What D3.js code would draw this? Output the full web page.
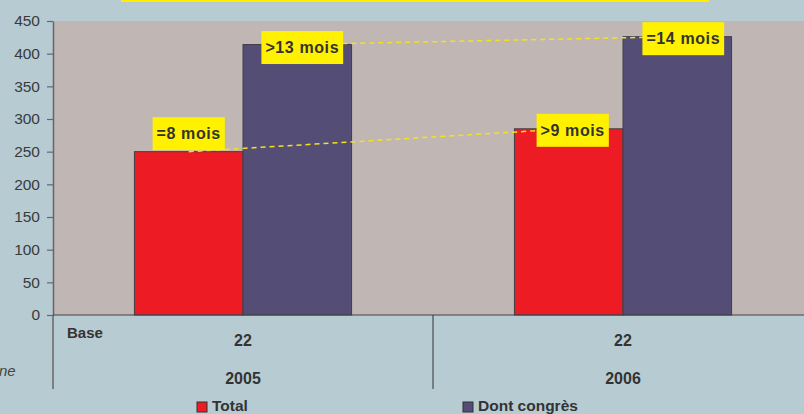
<!DOCTYPE html>
<html><head><meta charset="utf-8">
<script src="https://cdn.jsdelivr.net/npm/d3@7"></script>
<style>
html,body{margin:0;padding:0;background:#B7CBD3;}
svg{display:block;}
text{font-family:"Liberation Sans",Arial,sans-serif;}
</style></head>
<body>
<svg id="chart" width="804" height="414"></svg>
<script>
const categories = ["2005", "2006"];
const series = ["Total", "Dont congrès"];
const totalValues = [250, 285];
const congresValues = [414, 426];
const baseValues = ["22", "22"];
const yTicks = [0, 50, 100, 150, 200, 250, 300, 350, 400, 450];
const totalLabels = ["=8 mois", ">9 mois"];
const congresLabels = [">13 mois", "=14 mois"];
const colors = ["#ED1C24", "#544E76"];

(function () {
const svg = d3.select("#chart");
const W = 804, H = 414;
const mLeft = 53, mTop = 21, mBottom = 315, bandEnd = 813;

svg.append("rect").attr("width", W).attr("height", H).attr("fill", "#B7CBD3");
// title banner (cut at top)
svg.append("rect").attr("x", 121).attr("y", -30).attr("width", 588).attr("height", 32).attr("fill", "#FFEE00");

const y = d3.scaleLinear().domain([0, 450]).range([mBottom, mTop]);
const x0 = d3.scaleBand().domain(categories).range([mLeft, bandEnd]).paddingInner(0).paddingOuter(0);
const x1 = d3.scaleBand().domain(series).range([0, x0.bandwidth()]).paddingInner(0).paddingOuter(0.75);

// plot background
svg.append("rect").attr("x", mLeft + 1).attr("y", mTop).attr("width", W - mLeft).attr("height", mBottom - mTop).attr("fill", "#C0B7B4");

const data = categories.map((c, i) => ({cat: c, vals: [totalValues[i], congresValues[i]]}));

const g = svg.append("g");
data.forEach(d => {
  d.vals.forEach((v, j) => {
    g.append("rect")
      .attr("x", x0(d.cat) + x1(series[j]))
      .attr("y", y(v))
      .attr("width", x1.bandwidth())
      .attr("height", y(0) - y(v))
      .attr("fill", colors[j])
      .attr("stroke", "#3f3f46").attr("stroke-width", 1);
  });
});

// y axis
const yAxis = d3.axisLeft(y).tickValues(yTicks).tickSize(6).tickSizeOuter(0).tickPadding(7);
const ya = svg.append("g").attr("transform", `translate(${mLeft},0)`).call(yAxis);
ya.select(".domain").attr("stroke", "#666").attr("stroke-width", 1.5);
ya.selectAll(".tick line").attr("stroke", "#666").attr("stroke-width", 1.2);
ya.selectAll(".tick text").attr("fill", "#3a3a3a").style("font-size", "15.5px").style("font-family", "Liberation Sans, Arial, sans-serif");
// extend y axis line into table area
svg.append("line").attr("x1", mLeft).attr("x2", mLeft).attr("y1", mBottom).attr("y2", 389).attr("stroke", "#666").attr("stroke-width", 1.5);

// x axis baseline
svg.append("line").attr("x1", mLeft).attr("x2", W).attr("y1", mBottom).attr("y2", mBottom).attr("stroke", "#444").attr("stroke-width", 1.2);
// category dividers
categories.slice(1).forEach(c => {
  svg.append("line").attr("x1", x0(c)).attr("x2", x0(c)).attr("y1", mBottom).attr("y2", 389).attr("stroke", "#333").attr("stroke-width", 1);
});

// dashed trend lines
const lineGen = d3.line().x(d => d[0]).y(d => d[1]);
[totalValues, congresValues].forEach((vals, j) => {
  const pts = categories.map((c, i) => [x0(c) + x1(series[j]) + x1.bandwidth() / 2, y(vals[i])]);
  svg.append("path").attr("d", lineGen(pts)).attr("fill", "none")
    .attr("stroke", "#F5E21A").attr("stroke-width", 1.5).attr("stroke-dasharray", "5,4");
});

// labels
function addLabel(cx, cy, txt) {
  const t = svg.append("text").attr("x", cx).attr("y", cy).attr("text-anchor", "middle")
    .attr("dominant-baseline", "central").attr("fill", "#333")
    .style("font-size", "16px").style("font-weight", "bold").style("letter-spacing", "0.6px").text(txt);
  const bb = t.node().getBBox();
  svg.insert("rect", () => t.node())
    .attr("x", cx - bb.width / 2 - 4).attr("y", cy - 16.5).attr("width", bb.width + 8).attr("height", 33)
    .attr("fill", "#FFF100");
}
// label offsets (layout only)
const totalDX = [0, 4], totalDY = [-18, 1.5];
const congresDX = [5, 6], congresDY = [3, 2];
categories.forEach((c, i) => {
  addLabel(x0(c) + x1(series[0]) + x1.bandwidth() / 2 + totalDX[i], y(totalValues[i]) + totalDY[i], totalLabels[i]);
  addLabel(x0(c) + x1(series[1]) + x1.bandwidth() / 2 + congresDX[i], y(congresValues[i]) + congresDY[i], congresLabels[i]);
});

// table rows
svg.append("text").attr("x", 67).attr("y", 338).attr("fill", "#333")
  .style("font-size", "15px").style("font-weight", "bold").text("Base");
categories.forEach((c, i) => {
  const cx = x0(c) + x0.bandwidth() / 2;
  svg.append("text").attr("x", cx).attr("y", 346).attr("text-anchor", "middle").attr("fill", "#333")
    .style("font-size", "16px").style("font-weight", "bold").text(baseValues[i]);
  svg.append("text").attr("x", cx).attr("y", 384).attr("text-anchor", "middle").attr("fill", "#333")
    .style("font-size", "16px").style("font-weight", "bold").text(c);
});
svg.append("text").attr("x", -1).attr("y", 376).attr("fill", "#444")
  .style("font-size", "15px").style("font-style", "italic").text("ne");

// legend
const legX = [197, 463];
series.forEach((s, j) => {
  svg.append("rect").attr("x", legX[j]).attr("y", 402).attr("width", 10).attr("height", 10)
    .attr("fill", colors[j]).attr("stroke", "#333").attr("stroke-width", 1);
  svg.append("text").attr("x", legX[j] + 15).attr("y", 411).attr("fill", "#333")
    .style("font-size", "15.5px").style("font-weight", "bold").text(s);
});
})();
</script>
</body></html>
